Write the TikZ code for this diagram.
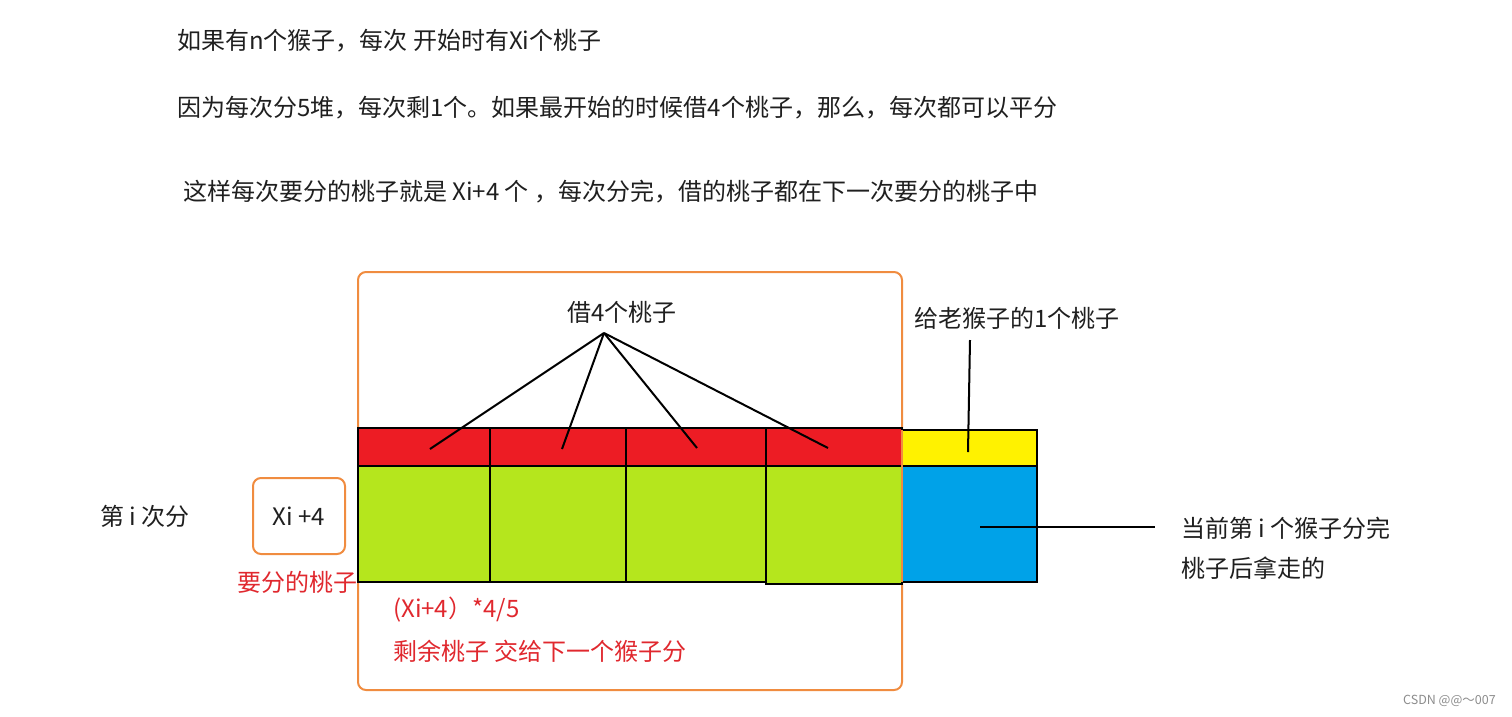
\documentclass[tikz,border=0pt]{standalone}
\usepackage{fontspec}
\newfontfamily\cjk{Noto Sans CJK SC}
\definecolor{pred}{RGB}{237,28,36}
\definecolor{pgreen}{RGB}{181,230,29}
\definecolor{pyellow}{RGB}{255,242,0}
\definecolor{pblue}{RGB}{0,162,232}
\definecolor{porange}{RGB}{240,140,64}
\definecolor{tred}{RGB}{224,40,46}
\begin{document}
\begin{tikzpicture}[x=1pt,y=-1pt,
  txt/.style={font=\cjk\fontsize{24}{28}\selectfont, inner sep=0pt, anchor=west, text=black!88},
  redtxt/.style={txt, text=tred},
  cell/.style={draw=black, line width=2pt, inner sep=0pt},
  obox/.style={draw=porange, line width=2pt, rounded corners=8pt, inner sep=0pt},
  conn/.style={draw=black, line width=2pt}]
\useasboundingbox (0,0) rectangle (1512,716);
% header texts
\node[txt] (t1) at (177,41) {如果有n个猴子，每次 开始时有Xi个桃子};
\node[txt] (t2) at (177,108) {因为每次分5堆，每次剩1个。如果最开始的时候借4个桃子，那么，每次都可以平分};
\node[txt] (t3) at (183,192) {这样每次要分的桃子就是 Xi+4 个 ，每次分完，借的桃子都在下一次要分的桃子中};
% big orange box
\node[obox, minimum width=544pt, minimum height=418pt] (big) at (630,481) {};
% cells
\node[cell, fill=pgreen, minimum width=132pt, minimum height=116pt] (g1) at (424,524) {};
\node[cell, fill=pgreen, minimum width=136pt, minimum height=116pt] (g2) at (558,524) {};
\node[cell, fill=pgreen, minimum width=140pt, minimum height=116pt] (g3) at (696,524) {};
\node[cell, fill=pgreen, minimum width=136pt, minimum height=118pt] (g4) at (834,525) {};
\node[cell, fill=pred, minimum width=132pt, minimum height=38pt] (r1) at (424,447) {};
\node[cell, fill=pred, minimum width=136pt, minimum height=38pt] (r2) at (558,447) {};
\node[cell, fill=pred, minimum width=140pt, minimum height=38pt] (r3) at (696,447) {};
\node[cell, fill=pred, minimum width=136pt, minimum height=38pt] (r4) at (834,447) {};
\node[cell, fill=pblue, minimum width=135pt, minimum height=116pt] (bl) at (969.5,524) {};
\node[cell, fill=pyellow, minimum width=135pt, minimum height=36pt] (ye) at (969.5,448) {};
\draw[porange, line width=2pt] (902,430) -- (902,582);
% borrow label and lines
\node[txt, anchor=center] (borrow) at (622,312) {借4个桃子};
\coordinate (apex) at (604,333);
\coordinate (e1) at (430,449);
\coordinate (e2) at (562,449);
\coordinate (e3) at (697,448);
\coordinate (e4) at (828,448);
\draw[conn] (apex) -- (e1);
\draw[conn] (apex) -- (e2);
\draw[conn] (apex) -- (e3);
\draw[conn] (apex) -- (e4);
% old monkey
\node[txt] (old) at (914,318) {给老猴子的1个桃子};
\coordinate (o1) at (970,340);
\coordinate (o2) at (968,452);
\draw[conn] (o1) -- (o2);
% left side
\node[txt, anchor=center] (ith) at (145,516) {第 i 次分};
\node[obox, minimum width=92pt, minimum height=76pt] (xbox) at (299,516) {};
\node[txt, anchor=center] (xtxt) at (xbox.center) {Xi +4};
\node[redtxt, anchor=center] (want) at (297,582) {要分的桃子};
% bottom red texts
\node[redtxt] (frac) at (393,610) {(Xi+4）*4/5};
\node[redtxt] (rest) at (393,651) {剩余桃子 交给下一个猴子分};
% right side
\coordinate (b1) at (980,527);
\coordinate (b2) at (1155,527);
\draw[conn] (b1) -- (b2);
\node[txt] (take1) at (1181,528) {当前第 i 个猴子分完};
\node[txt] (take2) at (1181,568) {桃子后拿走的};
% watermark
\node[font=\cjk\fontsize{12.5}{14}\selectfont, text=black!45, inner sep=0pt, anchor=west] (wm) at (1403,701) {CSDN @@～007};
\end{tikzpicture}
\end{document}
